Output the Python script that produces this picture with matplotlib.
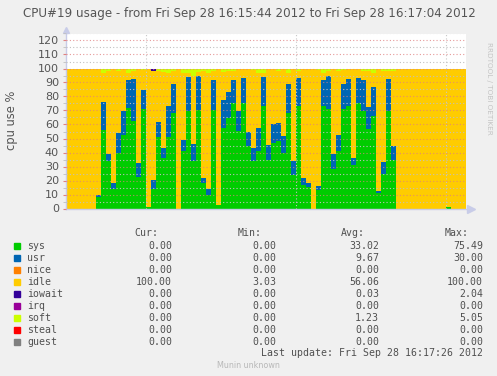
import numpy as np
import matplotlib.pyplot as plt
from matplotlib.patches import Rectangle

W, H = 497, 376

# per-second samples, 80 columns (16:15:44 .. 16:17:04)
sys_vals = [0, 0, 0, 0, 0, 0, 8.2, 56.3, 33.7, 14.2,
            39.9, 52.7, 72.0, 62.5, 22.7, 70.8, 1.3, 14.2, 51.3, 36.3,
            51.3, 68.5, 0, 41.1, 69.6, 34.2, 70.6, 18.5, 9.9, 70.6,
            2.3, 57.5, 65.0, 75.49, 55.5, 75.4, 45.0, 34.2, 41.0, 73.5,
            35.0, 47.0, 48.4, 39.9, 68.0, 24.0, 73.5, 16.9, 15.4, 0,
            13.2, 73.5, 71.1, 28.2, 41.3, 71.1, 73.5, 31.1, 75.4, 69.8,
            57.0, 66.4, 11.1, 25.0, 69.8, 34.9, 0, 0, 0, 0,
            0, 0, 0, 0, 0, 0, 1.0, 0, 0, 0]
usr_vals = [0, 0, 0, 0, 0, 0, 1.7, 19.8, 5.2, 4.0,
            14.0, 16.9, 19.8, 30.0, 9.8, 13.8, 0, 6.2, 10.5, 6.9,
            21.9, 20.4, 0, 7.8, 24.6, 11.9, 24.3, 3.3, 4.0, 21.2,
            0.4, 20.0, 18.2, 16.3, 14.1, 17.8, 9.8, 9.0, 16.5, 20.7,
            10.3, 13.4, 12.6, 11.9, 20.9, 9.9, 19.7, 4.9, 2.8, 0,
            2.8, 18.3, 23.5, 11.0, 11.2, 17.8, 19.0, 5.0, 17.8, 22.0,
            15.7, 20.4, 1.4, 8.2, 22.7, 9.7, 0, 0, 0, 0,
            0, 0, 0, 0, 0, 0, 0, 0, 0, 0]
soft_vals = [0, 0, 0, 0, 0, 0, 0, 3.0, 1.5, 0,
             2.0, 0, 3.0, 2.0, 0, 1.0, 0, 0, 2.0, 2.5,
             3.5, 2.0, 0, 3.0, 3.0, 5.05, 2.5, 2.0, 3.0, 2.0,
             0, 2.5, 2.0, 1.5, 0, 0, 0, 1.0, 3.0, 3.0,
             0, 0, 2.0, 0, 3.0, 0, 2.0, 0, 0, 0,
             1.0, 3.0, 2.0, 0, 2.0, 1.0, 0, 0, 0, 1.5,
             2.0, 3.0, 0, 2.0, 2.0, 1.5, 0, 0, 0, 0,
             0, 0, 0, 0, 0, 0, 0, 0, 0, 0]
iowait_vals = [0] * 80
iowait_vals[17] = 2.04

series_names = ['sys', 'usr', 'nice', 'idle', 'iowait', 'irq', 'soft', 'steal', 'guest']
series_colors = ['#00CC00', '#0066B3', '#FF8000', '#FFCC00', '#330099',
                 '#990099', '#CCFF00', '#FF0000', '#808080']
cur_col = ['0.00', '0.00', '0.00', '100.00', '0.00', '0.00', '0.00', '0.00', '0.00']
min_col = ['0.00', '0.00', '0.00', '3.03', '0.00', '0.00', '0.00', '0.00', '0.00']
avg_col = ['33.02', '9.67', '0.00', '56.06', '0.03', '0.00', '1.23', '0.00', '0.00']
max_col = ['75.49', '30.00', '0.00', '100.00', '2.04', '0.00', '5.05', '0.00', '0.00']

sys_a = np.array(sys_vals)
usr_a = np.array(usr_vals)
soft_a = np.array(soft_vals)
io_a = np.array(iowait_vals)
idle_a = 100 - sys_a - usr_a - soft_a - io_a
layers = [(sys_a, '#00CC00'), (usr_a, '#0066B3'), (idle_a, '#FFCC00'),
          (io_a, '#330099'), (soft_a, '#CCFF00')]

fig = plt.figure(figsize=(W / 100, H / 100), dpi=100, facecolor='#F0F0F0')
ax = fig.add_axes([66 / W, 1 - 208.5 / H, 400 / W, 175 / H])
ax.set_facecolor('white')

x = np.arange(81)
base = np.zeros(80)
for vals, col in layers:
    top = base + vals
    ax.fill_between(x, np.append(base, base[-1]), np.append(top, top[-1]),
                    step='post', color=col, linewidth=0, zorder=1)
    base = top

ax.set_xlim(0, 80)
ax.set_ylim(0, 125)
ax.set_yticks(np.arange(0, 121, 10))
ax.set_yticks(np.arange(5, 126, 10), minor=True)
ax.set_xticks([16, 46, 76])
ax.set_xticklabels([])
ax.set_axisbelow(False)
ax.grid(axis='y', which='major', color='#E08080', linestyle=(0, (1, 2)), linewidth=0.8, alpha=0.8)
ax.grid(axis='y', which='minor', color='#C0C0C0', linestyle=(0, (1, 2)), linewidth=0.8)
ax.grid(axis='x', which='major', color='#C8C8C8', linestyle=(0, (1, 2)), linewidth=0.8)
ax.tick_params(axis='y', which='major', length=2, color='#E08080', pad=3,
               labelsize=8, labelcolor='#555555')
ax.tick_params(axis='y', which='minor', length=2, color='#C0C0C0')
ax.tick_params(axis='x', length=0)
for s in ['top', 'right']:
    ax.spines[s].set_visible(False)
for s in ['left', 'bottom']:
    ax.spines[s].set_color('#C8CCE8')
    ax.spines[s].set_linewidth(1)

# axis arrows
ax.plot([1.012], [0], marker='>', color='#C8CCE8', markersize=6, transform=ax.transAxes, clip_on=False)
ax.plot([0], [1.02], marker='^', color='#C8CCE8', markersize=5, transform=ax.transAxes, clip_on=False)

def fy(py):
    return 1 - py / H

fig.text(249 / W, fy(14), 'CPU#19 usage - from Fri Sep 28 16:15:44 2012 to Fri Sep 28 16:17:04 2012',
         ha='center', va='center', fontsize=8.6, color='#555555')
fig.text(11 / W, fy(120), 'cpu use %', rotation=90, ha='center', va='center',
         fontsize=8.3, color='#555555')
fig.text(489 / W, fy(42), 'RRDTOOL / TOBI OETIKER', rotation=270, ha='center', va='top',
         fontsize=5.2, color='#C4C4C4')

mono = dict(family='DejaVu Sans Mono', fontsize=7.1, color='#505050', va='center')
for lab, xr in zip(['Cur:', 'Min:', 'Avg:', 'Max:'], [158, 262, 365, 469]):
    fig.text(xr / W, fy(233), lab, ha='right', **mono)
for i, name in enumerate(series_names):
    yc = 245.7 + 12 * i
    fig.patches.append(Rectangle((14 / W, fy(yc + 3)), 6 / W, 6 / H,
                                 transform=fig.transFigure, color=series_colors[i], figure=fig))
    fig.text(27 / W, fy(yc), name, ha='left', **mono)
    for vals, xr in zip([cur_col, min_col, avg_col, max_col], [172, 276, 379, 483]):
        fig.text(xr / W, fy(yc), vals[i], ha='right', **mono)
fig.text(483 / W, fy(353.3), 'Last update: Fri Sep 28 16:17:26 2012', ha='right', **mono)
fig.text(248.5 / W, fy(365), 'Munin unknown', ha='center', va='center', fontsize=5.8, color='#B8B8B8')

fig.savefig('out.png', dpi=100, facecolor=fig.get_facecolor())
